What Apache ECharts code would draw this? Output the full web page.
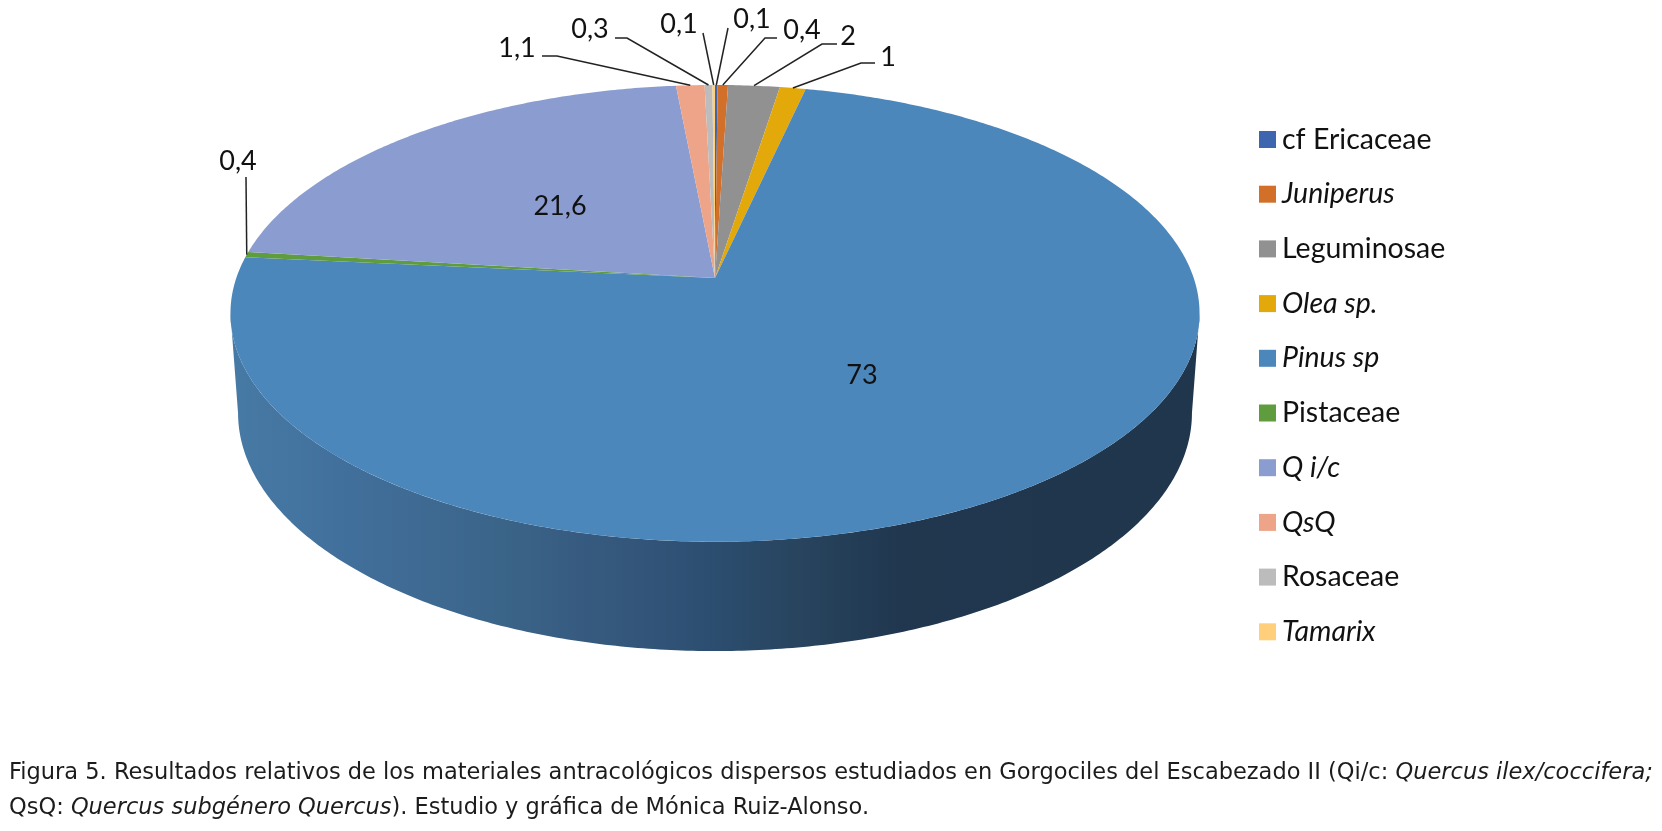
<!DOCTYPE html>
<html><head><meta charset="utf-8">
<style>html,body{margin:0;padding:0;background:#fff}#c{width:1662px;height:831px}</style>
<script src="https://cdn.jsdelivr.net/npm/echarts@6/dist/echarts.min.js"></script>
</head><body><div id="c"></div>
<script>
const categories = ['cf Ericaceae','Juniperus','Leguminosae','Olea sp.','Pinus sp','Pistaceae','Q i/c','QsQ','Rosaceae','Tamarix'];
const values = [0.1,0.4,2,1,73,0.4,21.6,1.1,0.3,0.1];
const italicFlags = [false,true,false,true,true,false,true,true,false,true];
const colors = ['#3d66ae','#d2702a','#919191','#e3a90a','#4c87bb','#5e9c3e','#8b9dd0','#eda488','#bcbcbc','#ffcf7b'];
const captionLine1 = ['Figura 5. Resultados relativos de los materiales antracológicos dispersos estudiados en Gorgociles del Escabezado II (Qi/c: ','Quercus ilex/coccifera;'];
const captionLine2 = ['QsQ: ','Quercus subgénero Quercus','). Estudio y gráfica de Mónica Ruiz-Alonso.'];

// label placement: text centre, then leader points running toward the rim
const labelLayout = [
  {t:[752,19], l:[[728,28]]},
  {t:[802,30], l:[[777,38],[765,38]]},
  {t:[848,36], l:[[837,44],[822,44]]},
  {t:[888,57], l:[[875,63],[861,63]]},
  {t:[862,375], l:null},
  {t:[238,161], l:[[246,177]]},
  {t:[560,206], l:null},
  {t:[517,48], l:[[542,56],[557,56]]},
  {t:[590,29], l:[[615,38],[627,38]]},
  {t:[679,24], l:[[703,33]]}
];

// perspective view of the disc
const P = 0.1548;
const TOP = {cx:715, cy:278, A:478.7, B:222.9};
const BOT = {cx:715, cy:376.2, A:471.2, B:232.3};
function rim(plane, a){
  const u = Math.sin(a), v = -Math.cos(a), w = 1 - P*v;
  return [plane.cx + plane.A*u/w, plane.cy + plane.B*v/w];
}
function arc(plane, a0, a1){
  const n = Math.max(2, Math.ceil(Math.abs(a1-a0)/0.01)), pts = [];
  for(let i=0;i<=n;i++) pts.push(rim(plane, a0+(a1-a0)*i/n));
  return pts;
}
const FRONT0 = Math.acos(-P), FRONT1 = 2*Math.PI - Math.acos(-P);
const total = values.reduce((s,v)=>s+v,0);
const FONT = 'Lato';
const LABEL_SIZE = 27;

function makeRender(idx){
  return function(params, api){
    const v = api.value(0);
    let before = 0;
    for(let i=0;i<idx;i++) before += values[i];
    const a0 = before/total*2*Math.PI, a1 = (before+v)/total*2*Math.PI;
    const children = [];
    const f0 = Math.max(a0,FRONT0), f1 = Math.min(a1,FRONT1);
    if(f1>f0){
      const left = rim(TOP,FRONT1)[0], right = rim(TOP,FRONT0)[0];
      children.push({type:'polygon',z2:1,
        shape:{points:arc(TOP,f0,f1).concat(arc(BOT,f1,f0))},
        style:{fill:new echarts.graphic.LinearGradient(left,0,right,0,[
          {offset:0.01,color:'#4779a5'},{offset:0.124,color:'#416f9b'},
          {offset:0.279,color:'#3b6489'},{offset:0.38,color:'#36597e'},
          {offset:0.485,color:'#2c4f72'},{offset:0.588,color:'#28445e'},
          {offset:0.69,color:'#20374f'},{offset:1,color:'#1f364c'}],true)}});
    }
    children.push({type:'polygon',z2:5,
      shape:{points:[[TOP.cx,TOP.cy]].concat(arc(TOP,a0,a1))},
      style:{fill:colors[idx]}});
    const lay = labelLayout[idx];
    if(lay.l){
      const anchor = rim(TOP,(a0+a1)/2);
      children.push({type:'polyline',z2:8,
        shape:{points:lay.l.concat([anchor])},
        style:{fill:null,stroke:'#222',lineWidth:1.5}});
    }
    children.push({type:'text',z2:10,
      style:{x:lay.t[0],y:lay.t[1],text:String(v).replace('.',','),
        fill:'#111',font:LABEL_SIZE+'px '+FONT,align:'center',verticalAlign:'middle'}});
    return {type:'group',children};
  };
}

const chart = echarts.init(document.getElementById('c'),null,{renderer:'canvas'});
const capBase = {color:'#1c1c1c',fontFamily:'DejaVu Sans',fontSize:22.5,fontWeight:'normal'};
const capRich = {n:capBase,i:Object.assign({},capBase,{fontStyle:'italic'})};
chart.setOption({
  animation:false,
  backgroundColor:'#fff',
  title:[
    {left:9,top:762,padding:0,text:'{n|'+captionLine1[0]+'}{i|'+captionLine1[1]+'}',
     textStyle:{fontWeight:'normal',rich:capRich}},
    {left:9,top:797,padding:0,text:'{n|'+captionLine2[0]+'}{i|'+captionLine2[1]+'}{n|'+captionLine2[2]+'}',
     textStyle:{fontWeight:'normal',rich:capRich}}
  ],
  legend:{
    orient:'vertical',left:1259,top:125,padding:0,
    itemWidth:17,itemHeight:17,itemGap:25.7,icon:'rect',
    textStyle:{fontFamily:FONT,fontSize:28.5,color:'#111',padding:[0,0,0,1]},
    data:categories.map((name,i)=>({name,textStyle:{fontStyle:italicFlags[i]?'italic':'normal'}}))
  },
  series:categories.map((name,i)=>({
    type:'custom',name,coordinateSystem:'none',
    data:[[values[i]]],
    itemStyle:{color:colors[i]},
    renderItem:makeRender(i),
    silent:true
  }))
});
</script></body></html>
